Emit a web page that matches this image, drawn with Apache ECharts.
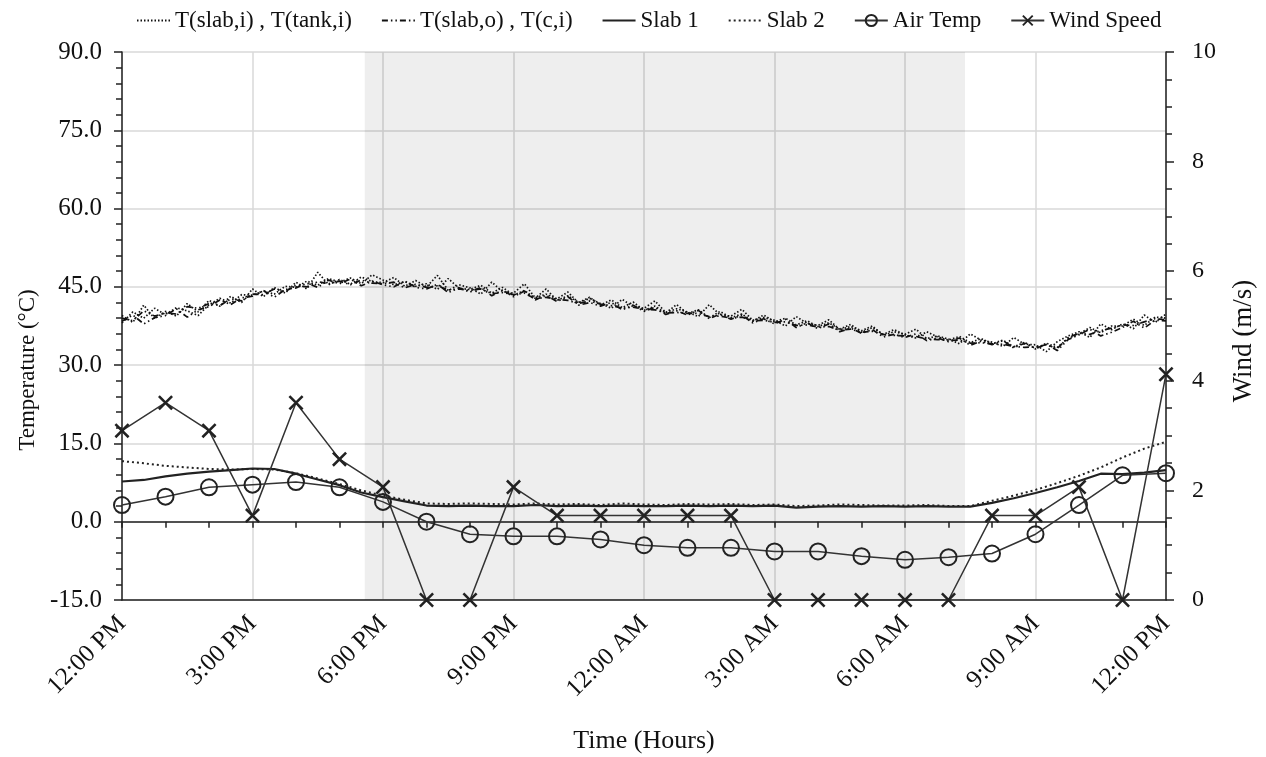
<!DOCTYPE html>
<html>
<head>
<meta charset="utf-8">
<script src="https://cdn.jsdelivr.net/npm/echarts@6/dist/echarts.min.js"></script>
<style>
  html, body { margin: 0; padding: 0; background: #fff; }
  #chart { width: 1266px; height: 757px; }
</style>
</head>
<body>
<div id="chart"></div>
<script>
// hours after 12:00 PM; tick labels every 3 h
const timeLabels = ['12:00 PM', '3:00 PM', '6:00 PM', '9:00 PM', '12:00 AM', '3:00 AM', '6:00 AM', '9:00 AM', '12:00 PM'];
const nightBand = [5.58, 19.38];

// 15-minute readings (97 points each)
const tSlabIn = [
    39.5, 38.2, 41.5, 38.9, 40.3, 39.4, 41.8, 40.2, 42.4, 41.3, 43.2, 42.0,
    44.6, 43.1, 44.9, 43.8, 45.9, 44.6, 47.8, 45.4, 46.4, 45.5, 46.9, 46.0,
    45.8, 46.8, 45.1, 46.2, 45.0, 47.2, 44.3, 45.4, 44.8, 43.6, 45.9, 44.1,
    43.8, 45.6, 42.9, 43.6, 42.7, 44.0, 41.9, 42.8, 41.8, 40.9, 42.6, 41.2,
    40.9, 42.3, 40.1, 40.8, 40.2, 39.3, 41.6, 39.6, 39.4, 40.7, 38.6, 39.1,
    38.6, 37.5, 39.3, 38.0, 37.6, 38.7, 36.8, 37.4, 36.6, 37.5, 35.7, 36.4,
    35.9, 36.9, 35.1, 35.6, 35.0, 34.1, 36.0, 34.8, 34.4, 33.6, 35.3, 34.0,
    33.9, 32.6, 34.5, 35.6, 36.4, 35.3, 37.9, 36.8, 37.9, 37.0, 39.6, 38.2,
    39.8
];
const tTankIn = [
    38.1, 40.2, 39.0, 40.9, 39.7, 41.0, 40.4, 39.5, 41.6, 42.8, 41.9, 43.5,
    43.4, 44.2, 43.6, 45.1, 44.9, 46.1, 45.3, 46.6, 45.9, 46.7, 45.6, 47.3,
    46.3, 45.4, 46.0, 45.1, 45.6, 44.5, 46.6, 44.7, 44.5, 45.3, 43.8, 44.9,
    43.4, 44.3, 42.8, 44.6, 42.4, 43.3, 42.0, 43.0, 41.5, 42.5, 41.0, 42.1,
    40.5, 41.3, 40.0, 41.6, 39.9, 40.6, 39.1, 40.3, 39.1, 39.8, 38.4, 39.6,
    38.3, 39.0, 37.7, 38.5, 37.4, 38.1, 36.9, 37.8, 36.3, 37.2, 35.9, 36.8,
    35.8, 35.2, 36.4, 35.4, 34.8, 35.5, 34.3, 35.1, 34.1, 34.8, 33.5, 34.4,
    33.1, 34.2, 33.4, 35.1, 36.0, 37.2, 36.2, 37.5, 37.5, 38.8, 37.6, 39.2,
    39.0
];
const tSlabOut = [
    38.4, 39.6, 37.9, 39.1, 39.5, 40.8, 39.2, 40.6, 41.2, 42.5, 41.6, 42.9,
    43.2, 44.3, 43.0, 44.5, 44.8, 45.7, 44.9, 46.3, 45.6, 46.5, 45.2, 46.1,
    45.4, 45.0, 46.1, 44.9, 44.6, 45.5, 43.9, 44.8, 44.0, 44.9, 43.3, 44.4,
    43.1, 44.2, 42.5, 43.4, 42.2, 43.1, 41.5, 42.0, 41.3, 42.0, 40.6, 41.5,
    40.3, 41.1, 39.7, 40.4, 39.6, 40.5, 38.9, 39.8, 38.8, 39.6, 38.1, 38.9,
    37.9, 38.8, 37.2, 38.1, 37.0, 37.9, 36.4, 37.1, 36.1, 36.8, 35.4, 35.9,
    35.3, 36.0, 34.7, 35.2, 34.5, 35.2, 33.8, 34.6, 33.9, 34.7, 33.3, 34.2,
    33.2, 34.0, 32.8, 34.9, 35.8, 36.9, 35.6, 36.3, 37.2, 38.4, 37.1, 38.6,
    38.5
];
const tCollIn = [
    39.0, 38.5, 40.4, 39.4, 40.0, 39.8, 41.2, 40.9, 41.8, 41.4, 42.7, 42.3,
    43.6, 43.5, 44.6, 44.1, 45.3, 45.0, 46.0, 45.6, 46.1, 45.4, 46.3, 45.7,
    45.6, 45.9, 44.8, 45.5, 44.9, 45.2, 44.4, 44.6, 44.3, 44.6, 43.7, 43.9,
    43.5, 43.8, 42.7, 43.0, 42.6, 42.4, 41.8, 42.3, 41.7, 41.4, 40.9, 41.1,
    40.7, 40.6, 40.0, 40.1, 39.9, 39.9, 39.3, 39.4, 39.0, 39.2, 38.5, 38.6,
    38.2, 38.3, 37.6, 37.7, 37.3, 37.4, 36.7, 36.9, 36.3, 36.5, 35.9, 35.7,
    35.6, 35.5, 35.0, 34.9, 34.7, 34.8, 34.2, 34.3, 34.1, 34.0, 33.6, 33.4,
    33.5, 33.9, 33.2, 35.3, 36.1, 35.9, 36.6, 37.1, 37.7, 37.6, 38.3, 38.9,
    38.7
];

// 30-minute readings (49 points)
const slab1 = [
    7.7, 8.0, 8.7, 9.2, 9.6, 9.9, 10.2, 10.1, 9.2, 8.1, 7.0, 5.6,
    4.7, 3.9, 3.1, 3.0, 3.1, 3.0, 3.0, 3.2, 3.0, 3.1, 3.0, 3.1,
    3.0, 3.0, 3.1, 3.0, 3.1, 3.0, 3.1, 2.7, 2.9, 3.0, 2.9, 3.0,
    2.9, 3.0, 2.9, 2.9, 3.6, 4.5, 5.5, 6.6, 7.8, 9.2, 9.1, 9.4,
    9.9
];
const slab2 = [
    11.6, 11.2, 10.7, 10.4, 10.1, 10.0, 10.1, 10.0, 9.3, 8.3, 7.2, 6.0,
    5.0, 4.2, 3.5, 3.4, 3.5, 3.4, 3.3, 3.5, 3.3, 3.4, 3.2, 3.5,
    3.3, 3.2, 3.4, 3.3, 3.4, 3.2, 3.3, 3.0, 3.1, 3.3, 3.2, 3.1,
    3.1, 3.2, 3.0, 3.0, 4.0, 5.0, 6.1, 7.4, 8.8, 10.4, 12.3, 14.0,
    15.3
];

// hourly readings (25 points)
const airTemp = [3.2, 4.8, 6.6, 7.1, 7.6, 6.6, 3.8, 0.0, -2.4, -2.8, -2.8, -3.4, -4.5,
    -5.0, -5.0, -5.7, -5.7, -6.6, -7.3, -6.8, -6.1, -2.4, 3.2, 8.9, 9.3];
const windSpeed = [3.09, 3.6, 3.09, 1.54, 3.6, 2.57, 2.06, 0, 0, 2.06, 1.54, 1.54, 1.54,
    1.54, 1.54, 0, 0, 0, 0, 0, 1.54, 1.54, 2.06, 0, 4.12];

function toPairs(values, step) {
    return values.map((v, i) => [i * step, v]);
}

const font = 'Liberation Serif';
const ink = '#222';
const crossPath = 'path://M0,1.2L1.2,0L10,8.8L8.8,10Z M8.8,0L10,1.2L1.2,10L0,8.8Z';
const nameInLegend = 'T(slab,i) , T(tank,i)';
const nameOutLegend = 'T(slab,o) , T(c,i)';
const dotted = [1.5, 2];
const dashDot = [6, 3, 1.5, 3, 1.5, 3];
const hideDot = { color: 'rgba(0,0,0,0)', borderColor: 'rgba(0,0,0,0)' };

function bandSeries(name, values, dash) {
    return {
        name: name,
        type: 'line',
        data: toPairs(values, 0.25),
        symbol: 'none',
        lineStyle: { color: '#111', width: 1.7, type: dash },
        itemStyle: { color: '#111' }
    };
}

let myChart = echarts.init(document.getElementById('chart'));

const first = bandSeries(nameInLegend, tSlabIn, dotted);
first.markArea = {
    silent: true,
    itemStyle: { color: 'rgba(0,0,0,0.065)' },
    data: [[{ xAxis: nightBand[0] }, { xAxis: nightBand[1] }]]
};

option = {
    backgroundColor: '#fff',
    animation: false,
    textStyle: { fontFamily: font },
    legend: {
        top: 4,
        left: 131,
        itemWidth: 33,
        itemHeight: 14,
        itemGap: 29,
        textStyle: { fontFamily: font, fontSize: 23, color: '#111' },
        data: [
            { name: nameInLegend, itemStyle: hideDot },
            { name: nameOutLegend, itemStyle: hideDot },
            { name: 'Slab 1', itemStyle: hideDot },
            { name: 'Slab 2', itemStyle: hideDot },
            'Air Temp',
            'Wind Speed'
        ]
    },
    grid: { left: 122, right: 100, top: 52, bottom: 157, outerBoundsMode: 'none' },
    xAxis: [
        {
            type: 'value',
            min: 0,
            max: 24,
            interval: 1,
            axisLine: { onZero: true, onZeroAxisIndex: 0, lineStyle: { color: ink, width: 1.5 } },
            axisTick: { show: true, length: 6, lineStyle: { color: ink, width: 1.5 } },
            axisLabel: { show: false },
            splitLine: { show: false }
        },
        {
            type: 'value',
            position: 'bottom',
            min: 0,
            max: 24,
            interval: 3,
            name: 'Time (Hours)',
            nameLocation: 'middle',
            nameGap: 128,
            nameTextStyle: { fontFamily: font, fontSize: 26, color: '#111' },
            axisLine: { onZero: false, lineStyle: { color: ink, width: 1.5 } },
            axisTick: { show: false },
            axisLabel: {
                rotate: 45,
                margin: 20,
                fontFamily: font,
                fontSize: 25,
                color: '#111',
                formatter: v => timeLabels[Math.round(v / 3)]
            },
            splitLine: { show: true, lineStyle: { color: '#d9d9d9', width: 1.5 } }
        }
    ],
    yAxis: [
        {
            type: 'value',
            min: -15,
            max: 90,
            interval: 15,
            name: 'Temperature (°C)',
            nameLocation: 'middle',
            nameGap: 79,
            nameTextStyle: { fontFamily: font, fontSize: 23, color: '#111', padding: [0, 88, 0, 0] },
            axisLine: { show: true, onZero: false, lineStyle: { color: ink, width: 1.5 } },
            axisTick: { show: true, length: 8, lineStyle: { color: ink, width: 1.5 } },
            minorTick: { show: true, splitNumber: 5, length: 6, lineStyle: { color: ink, width: 1.5 } },
            axisLabel: { margin: 20, fontFamily: font, fontSize: 25, color: '#111', formatter: v => v.toFixed(1) },
            splitLine: { show: true, lineStyle: { color: '#d9d9d9', width: 1.5 } }
        },
        {
            type: 'value',
            position: 'right',
            min: 0,
            max: 10,
            interval: 2,
            name: 'Wind (m/s)',
            nameLocation: 'middle',
            nameGap: 64,
            nameTextStyle: { fontFamily: font, fontSize: 27, color: '#111', padding: [0, 30, 0, 0] },
            axisLine: { show: true, onZero: false, lineStyle: { color: ink, width: 1.5 } },
            axisTick: { show: true, length: 8, lineStyle: { color: ink, width: 1.5 } },
            minorTick: { show: true, splitNumber: 4, length: 6, lineStyle: { color: ink, width: 1.5 } },
            axisLabel: { margin: 26, fontFamily: font, fontSize: 24, color: '#111' },
            splitLine: { show: false }
        }
    ],
    series: [
        first,
        bandSeries(nameInLegend, tTankIn, dotted),
        bandSeries(nameOutLegend, tSlabOut, dashDot),
        bandSeries(nameOutLegend, tCollIn, dashDot),
        {
            name: 'Slab 1',
            type: 'line',
            data: toPairs(slab1, 0.5),
            symbol: 'none',
            lineStyle: { color: '#222', width: 2.2 },
            itemStyle: { color: '#222' }
        },
        {
            name: 'Slab 2',
            type: 'line',
            data: toPairs(slab2, 0.5),
            symbol: 'none',
            lineStyle: { color: '#222', width: 2, type: [2, 3] },
            itemStyle: { color: '#222' }
        },
        {
            name: 'Air Temp',
            type: 'line',
            data: toPairs(airTemp, 1),
            symbol: 'circle',
            symbolSize: 16,
            lineStyle: { color: '#333', width: 1.5 },
            itemStyle: { color: 'rgba(255,255,255,0)', borderColor: '#222', borderWidth: 2 }
        },
        {
            name: 'Wind Speed',
            type: 'line',
            yAxisIndex: 1,
            data: toPairs(windSpeed, 1),
            symbol: crossPath,
            symbolSize: 15,
            lineStyle: { color: '#333', width: 1.5 },
            itemStyle: { color: '#222' }
        }
    ]
};

myChart.setOption(option);
</script>
</body>
</html>
